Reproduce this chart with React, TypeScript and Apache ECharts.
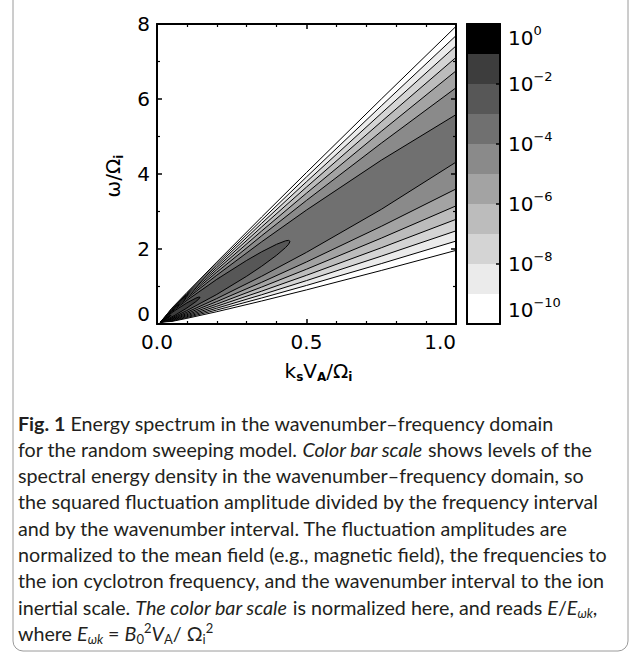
import React, { useEffect, useRef } from 'react';
import * as echarts from 'echarts';

// ---- Data ----
// wavenumber positions (k_s V_A / Omega_i) at which the open contour lines were read
const kSamples = [0.05, 0.1, 0.2, 0.35, 0.5, 0.75, 1.0];
// common apex of all contours near the origin
const originTip = [0.012, 0.05];

// open contour lines: omega/Omega_i of the upper and lower branch at kSamples
const upperE10 = [0.426, 0.839, 1.652, 2.853, 4.04, 5.998, 7.937];
const lowerE10 = [0.069, 0.151, 0.328, 0.613, 0.91, 1.427, 1.963];
const upperE9 = [0.415, 0.818, 1.607, 2.772, 3.922, 5.816, 7.689];
const lowerE9 = [0.08, 0.173, 0.373, 0.693, 1.028, 1.61, 2.211];
const upperE8 = [0.404, 0.795, 1.559, 2.685, 3.794, 5.616, 7.416];
const lowerE8 = [0.091, 0.195, 0.421, 0.78, 1.157, 1.809, 2.484];
const upperE7 = [0.393, 0.77, 1.507, 2.589, 3.651, 5.393, 7.109];
const lowerE7 = [0.102, 0.22, 0.473, 0.876, 1.299, 2.032, 2.791];
const upperE6 = [0.38, 0.743, 1.449, 2.48, 3.489, 5.136, 6.75];
const lowerE6 = [0.115, 0.247, 0.531, 0.985, 1.461, 2.289, 3.15];
const upperE5 = [0.366, 0.712, 1.382, 2.353, 3.296, 4.821, 6.299];
const lowerE5 = [0.129, 0.278, 0.598, 1.112, 1.655, 2.604, 3.601];
const upperE4 = [0.35, 0.677, 1.302, 2.192, 3.039, 4.368, 5.583];
const lowerE4 = [0.145, 0.313, 0.678, 1.273, 1.911, 3.057, 4.317];

// closed contours (elongated ellipses near the origin)
const kE3 = [0.02, 0.05, 0.1, 0.2, 0.3, 0.35, 0.4, 0.43, 0.44, 0.445];
const upperE3 = [0.139, 0.33, 0.632, 1.191, 1.696, 1.925, 2.126, 2.218, 2.23, 2.203];
const lowerE3 = [0.059, 0.165, 0.358, 0.789, 1.274, 1.54, 1.834, 2.039, 2.126, 2.203];
const kE2 = [0.03, 0.06, 0.1, 0.13, 0.14, 0.144];
const upperE2 = [0.191, 0.36, 0.563, 0.69, 0.719, 0.713];
const lowerE2 = [0.106, 0.234, 0.427, 0.597, 0.667, 0.713];
const kE1 = [0.02, 0.035, 0.045, 0.0466];
const upperE1 = [0.12, 0.194, 0.232, 0.231];
const lowerE1 = [0.078, 0.152, 0.213, 0.231];

// colour bar: lower exponent of each band and its grey level
const bandLowerExponent = [-10, -9, -8, -7, -6, -5, -4, -3, -2, -1];
const bandGray = ['#ffffff', '#ebebeb', '#d4d4d4', '#bcbcbc', '#a3a3a3', '#8a8a8a', '#707070', '#575757', '#3d3d3d', '#000000'];
const colorbarTickExponents = [0, -2, -4, -6, -8, -10];

// axis ticks
const xTicks = [0.0, 0.5, 1.0];
const yTicks = [0, 2, 4, 6, 8];

const captionLines: [string, string][][] = [
  [['b', 'Fig. 1'], ['r', ' Energy spectrum in the wavenumber\u2013frequency domain']],
  [['r', 'for the random sweeping model. '], ['i', 'Color bar scale'], ['r', ' shows levels of the']],
  [['r', 'spectral energy density in the wavenumber\u2013frequency domain, so']],
  [['r', 'the squared fluctuation amplitude divided by the frequency interval']],
  [['r', 'and by the wavenumber interval. The fluctuation amplitudes are']],
  [['r', 'normalized to the mean field (e.g., magnetic field), the frequencies to']],
  [['r', 'the ion cyclotron frequency, and the wavenumber interval to the ion']],
  [['r', 'inertial scale. '], ['i', 'The color bar scale'], ['r', ' is normalized here, and reads '], ['i', 'E'], ['r', '/'], ['i', 'E'], ['isub', '\u03c9k'], ['r', ',']],
  [['r', 'where '], ['i', 'E'], ['isub', '\u03c9k'], ['r', ' = '], ['i', 'B'], ['sub', '0'], ['sup', '2'], ['i', 'V'], ['sub', 'A'], ['r', '/ \u03a9'], ['sub', 'i'], ['sup', '2']],
];

// ---- build polygons (region above each level) ----
type Pt = [number, number];
function openRegion(upper: number[], lower: number[]): Pt[] {
  const lo = kSamples.map((k, i) => [k, lower[i]] as Pt);
  const up = kSamples.map((k, i) => [k, upper[i]] as Pt).reverse();
  return [originTip as Pt, ...lo, ...up];
}
function closedRegion(ks: number[], upper: number[], lower: number[]): Pt[] {
  const lo = ks.map((k, i) => [k, lower[i]] as Pt);
  const up = ks.map((k, i) => [k, upper[i]] as Pt).reverse();
  return [originTip as Pt, ...lo, ...up];
}
const regions: Pt[][] = [
  openRegion(upperE10, lowerE10),
  openRegion(upperE9, lowerE9),
  openRegion(upperE8, lowerE8),
  openRegion(upperE7, lowerE7),
  openRegion(upperE6, lowerE6),
  openRegion(upperE5, lowerE5),
  openRegion(upperE4, lowerE4),
  closedRegion(kE3, upperE3, lowerE3),
  closedRegion(kE2, upperE2, lowerE2),
  closedRegion(kE1, upperE1, lowerE1),
];

const AX = 'DejaVu Sans';
const AX_SIZE = 20;
const CAP = 'Lato';
const CAP_SIZE = 19.7;
const CAP_COLOR = '#231f20';

function mainAxisCommon() {
  return {
    z: 10,
    axisLine: { show: true, onZero: false, lineStyle: { color: '#000', width: 2 } },
    axisTick: { show: true, inside: true, length: 5, lineStyle: { color: '#000', width: 1.5 } },
    minorTick: { show: true, length: 3, lineStyle: { color: '#000', width: 1.2 } },
    splitLine: { show: false },
  };
}

export default function App() {
  const ref = useRef<HTMLDivElement>(null);
  useEffect(() => {
    if (!ref.current) return;
    const chart = echarts.init(ref.current, null, { renderer: 'svg' });

    const subStyle = { fontFamily: AX, fontSize: 12, fontWeight: 'bold', color: '#000', fill: '#000', lineHeight: 12, verticalAlign: 'bottom' };
    const capRich: any = {
      r: { fontFamily: CAP, fontSize: CAP_SIZE, fill: CAP_COLOR, lineHeight: 24 },
      b: { fontFamily: CAP, fontSize: CAP_SIZE, fontWeight: 'bold', fill: CAP_COLOR, lineHeight: 24 },
      i: { fontFamily: CAP, fontSize: CAP_SIZE, fontStyle: 'italic', fill: CAP_COLOR, lineHeight: 24 },
      isub: { fontFamily: CAP, fontSize: 13, fontStyle: 'italic', fill: CAP_COLOR, lineHeight: 12, verticalAlign: 'bottom' },
      sub: { fontFamily: CAP, fontSize: 13, fill: CAP_COLOR, lineHeight: 12, verticalAlign: 'bottom' },
      sup: { fontFamily: CAP, fontSize: 13, fill: CAP_COLOR, lineHeight: 12, verticalAlign: 'top' },
    };

    const captionElements = captionLines.map((tokens, li) => ({
      type: 'text',
      x: 18,
      y: 423 + li * 26.3,
      z: 20,
      style: {
        text: tokens.map(([s, t]) => `{${s}|${t}}`).join(''),
        rich: capRich,
        verticalAlign: 'middle',
        align: 'left',
      },
    }));

    const option: any = {
      animation: false,
      backgroundColor: '#ffffff',
      grid: [
        { left: 157, top: 24, width: 299, height: 300, show: false },
        { left: 467, top: 24, width: 33, height: 300, show: false },
      ],
      xAxis: [
        {
          ...mainAxisCommon(),
          gridIndex: 0, type: 'value', position: 'bottom', min: xTicks[0], max: xTicks[xTicks.length - 1], interval: 0.5,
          minorTick: { ...mainAxisCommon().minorTick, splitNumber: 5 },
          axisLabel: {
            color: '#000', fontFamily: AX, fontSize: AX_SIZE, margin: 8,
            formatter: (v: number) => v.toFixed(1), alignMaxLabel: 'right',
          },
          name: '{n|k}{s|s}{n|V}{s|A}{n|/\u03a9}{s|i}',
          nameLocation: 'middle', nameGap: 35,
          nameTextStyle: {
            padding: [0, 0, 0, 24],
            rich: {
              n: { fontFamily: AX, fontSize: AX_SIZE, color: '#000', lineHeight: 24 },
              s: subStyle,
            },
          },
        },
        {
          ...mainAxisCommon(),
          gridIndex: 0, type: 'value', position: 'top', min: 0, max: 1, interval: 0.5,
          minorTick: { ...mainAxisCommon().minorTick, splitNumber: 5 },
          axisLabel: { show: false },
        },
        {
          gridIndex: 1, type: 'value', position: 'bottom', min: 0, max: 1, z: 10,
          axisLine: { show: true, onZero: false, lineStyle: { color: '#000', width: 2 } },
          axisTick: { show: false }, axisLabel: { show: false }, splitLine: { show: false },
        },
        {
          gridIndex: 1, type: 'value', position: 'top', min: 0, max: 1, z: 10,
          axisLine: { show: true, onZero: false, lineStyle: { color: '#000', width: 2 } },
          axisTick: { show: false }, axisLabel: { show: false }, splitLine: { show: false },
        },
      ],
      yAxis: [
        {
          ...mainAxisCommon(),
          gridIndex: 0, type: 'value', position: 'left', min: yTicks[0], max: yTicks[yTicks.length - 1], interval: 2,
          minorTick: { ...mainAxisCommon().minorTick, splitNumber: 2 },
          axisLabel: { color: '#000', fontFamily: AX, fontSize: AX_SIZE, margin: 7, rotate: 0, verticalAlignMinLabel: 'bottom' },
        },
        {
          ...mainAxisCommon(),
          gridIndex: 0, type: 'value', position: 'right', min: 0, max: 8, interval: 2,
          minorTick: { ...mainAxisCommon().minorTick, splitNumber: 2 },
          axisLabel: { show: false },
        },
        {
          gridIndex: 1, type: 'value', position: 'left', min: -10, max: 0, z: 10,
          axisLine: { show: true, onZero: false, lineStyle: { color: '#000', width: 2 } },
          axisTick: { show: false }, axisLabel: { show: false }, splitLine: { show: false },
        },
        {
          gridIndex: 1, type: 'value', position: 'right', min: colorbarTickExponents[colorbarTickExponents.length - 1], max: colorbarTickExponents[0], interval: 2, z: 10,
          axisLine: { show: true, onZero: false, lineStyle: { color: '#000', width: 2 } },
          axisTick: { show: true, inside: true, length: 4, lineStyle: { color: '#000', width: 1.5 } },
          splitLine: { show: false },
          axisLabel: {
            margin: 8,
            verticalAlignMaxLabel: 'top',
            verticalAlignMinLabel: 'bottom',
            formatter: (v: number) => `{b|10}{s|${v === 0 ? '0' : '\u2212' + Math.abs(v)}}`,
            rich: {
              b: { fontFamily: AX, fontSize: AX_SIZE, color: '#000', lineHeight: 28 },
              s: { fontFamily: AX, fontSize: 13, color: '#000', lineHeight: 13, verticalAlign: 'top' },
            },
          },
        },
      ],
      series: [
        {
          type: 'custom',
          name: 'spectrum',
          xAxisIndex: 0,
          yAxisIndex: 0,
          clip: true,
          encode: { x: 0, y: 1 },
          data: regions.map((poly, i) => [poly[0][0], poly[0][1], i]),
          renderItem: (params: any, api: any) => {
            const idx = params.dataIndex;
            const pts = regions[idx].map((p) => api.coord(p));
            return {
              type: 'polygon',
              z2: idx,
              shape: { points: pts },
              style: { fill: bandGray[idx], stroke: '#000', lineWidth: 1 },
            };
          },
        },
        {
          type: 'custom',
          name: 'colorbar',
          xAxisIndex: 2,
          yAxisIndex: 2,
          encode: { x: 0, y: [1, 2] },
          data: bandLowerExponent.map((e, i) => [0, e, e + 1, i]),
          renderItem: (params: any, api: any) => {
            const p1 = api.coord([0, api.value(2)]);
            const p2 = api.coord([1, api.value(1)]);
            return {
              type: 'rect',
              shape: { x: p1[0], y: p1[1], width: p2[0] - p1[0], height: p2[1] - p1[1] },
              style: { fill: bandGray[api.value(3)], stroke: null },
            };
          },
        },
      ],
      graphic: [
        {
          type: 'rect',
          z: 20,
          shape: { x: 13, y: -20, width: 615, height: 671, r: 10 },
          style: { fill: 'none', stroke: '#9a9a9a', lineWidth: 1 },
        },
        {
          type: 'text',
          x: 113,
          y: 176,
          rotation: Math.PI / 2,
          z: 20,
          style: {
            text: '{n|\u03c9/\u03a9}{s|i}',
            align: 'center',
            verticalAlign: 'middle',
            rich: {
              n: { fontFamily: AX, fontSize: AX_SIZE, fill: '#000', lineHeight: 24 },
              s: subStyle,
            },
          },
        },
        ...captionElements,
      ],
    };
    chart.setOption(option);
    return () => chart.dispose();
  }, []);
  return (
    <div
      ref={ref}
      style={{ position: 'absolute', left: 0, top: 0, width: 637, height: 657, background: '#fff' }}
    />
  );
}
